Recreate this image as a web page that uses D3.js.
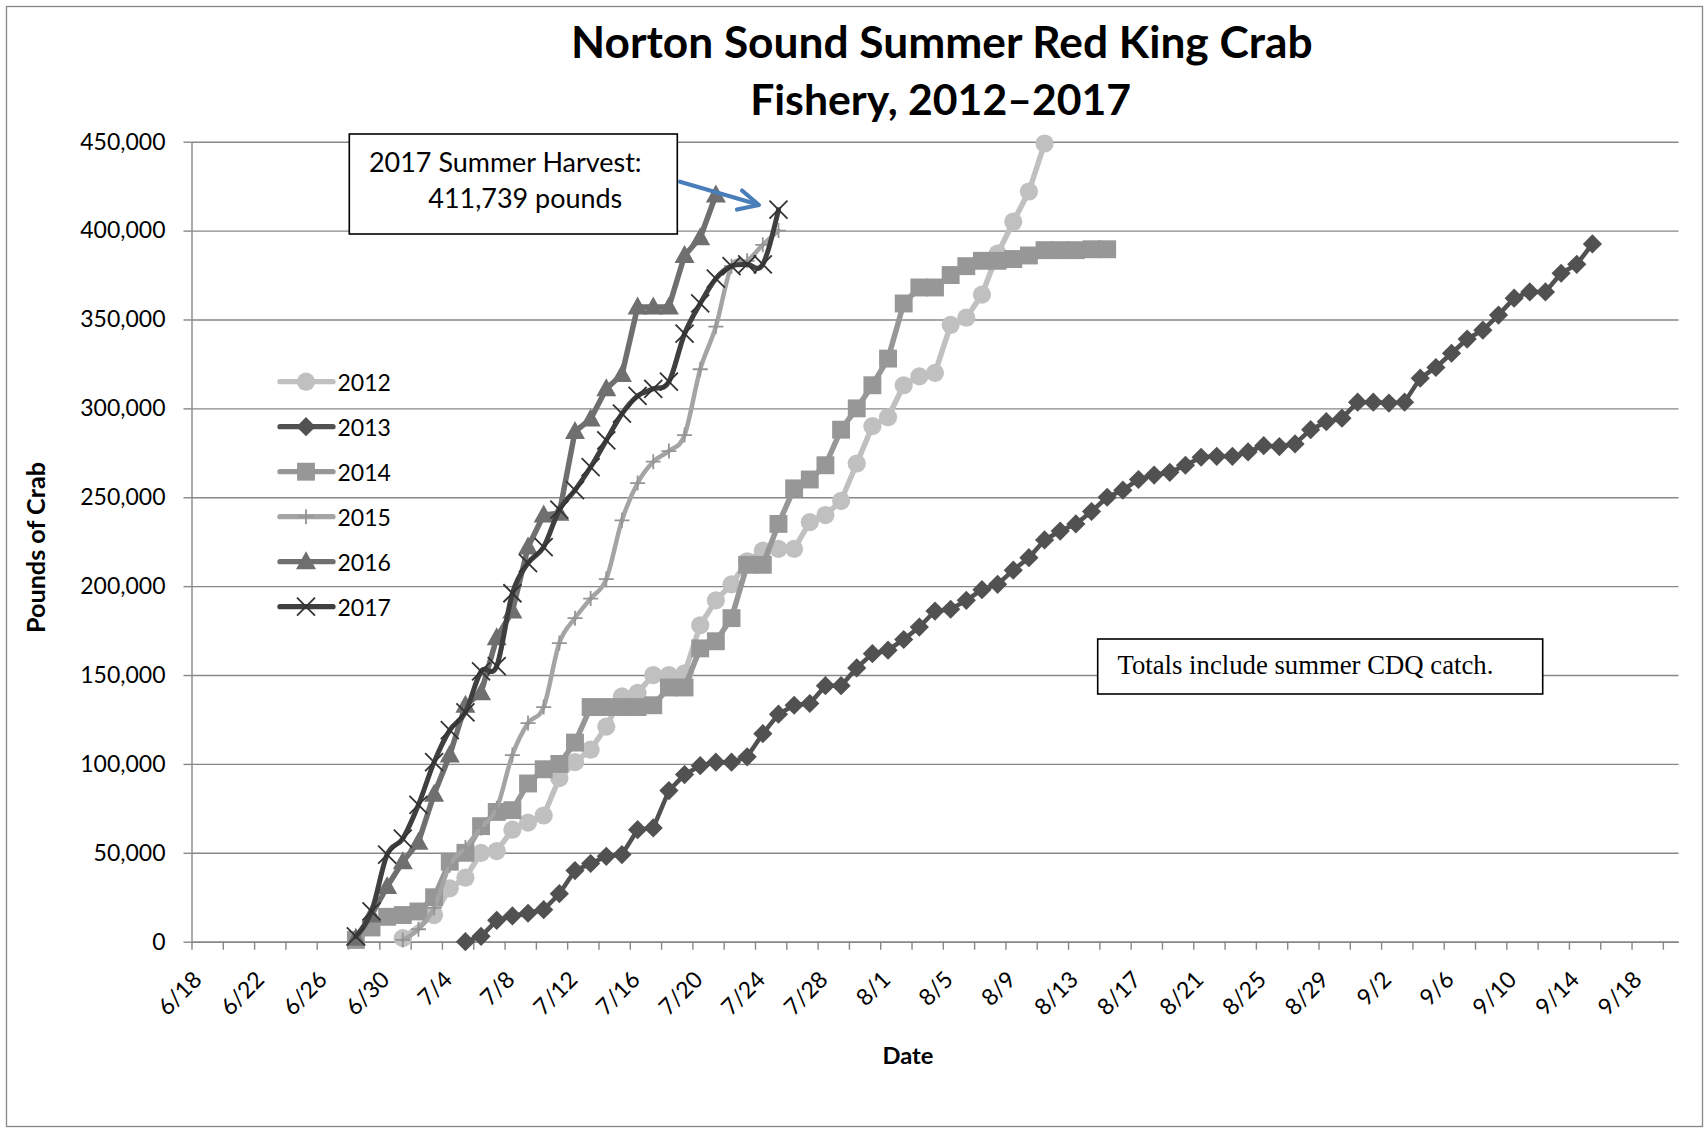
<!DOCTYPE html>
<html><head><meta charset="utf-8">
<script src="https://cdn.jsdelivr.net/npm/d3@7"></script>
<style>
body{margin:0;background:#fff;}
svg{display:block;}
</style></head><body>
<svg id="chart" width="1705" height="1128"></svg>
<script>
// ---------------- DATA ----------------
const seriesNames = ["2012", "2013", "2014", "2015", "2016", "2017"];
// first date of each series (daily values follow, one per day)
const seriesStart = ["7/1", "7/5", "6/28", "7/1", "6/28", "6/28"];

const values2012 = [2000, null, 15000, 30000, 36000, 50000, 51000, 63000, 67000, 71000, 92000, 101000, 108000, 121000, 138000, 140000, 150000, 150000, 151000, 178000, 192000, 201000, 214000, 220000, 221000, 221000, 236000, 240000, 248000, 269000, 290000, 295000, 313000, 318000, 320000, 347000, 351000, 364000, 387000, 405000, 422000, 449000];
const values2013 = [0, 3000, 12000, 14500, 16000, 18000, 27000, 40000, 44000, 48000, 49000, 63000, 64000, 85000, 94000, 99000, 101000, 101000, 104000, 117000, 128000, 133000, 134000, 144000, 144000, 154000, 162000, 164000, 170000, 177000, 186000, 187000, 192000, 198000, 201000, 209000, 216000, 226000, 231000, 235000, 242000, 250000, 254000, 260000, 262500, 264000, 268000, 272500, 273000, 273000, 275500, 279000, 278500, 280000, 288000, 292500, 294500, 303500, 303500, 303000, 303500, 317000, 323000, 331000, 339000, 344000, 352500, 362000, 365500, 365500, 376000, 381000, 392500];
const values2014 = [1000, 8000, 14000, 15000, 17000, 25000, 45000, 50000, 65000, 73000, 74000, 89000, 97000, 100000, 112000, 132000, 132000, 132000, 132000, 133000, 143000, 143000, 165000, 169000, 182000, 212000, 212000, 235000, 255000, 260000, 268000, 288000, 300000, 313000, 328000, 359000, 368000, 368000, 375000, 380000, 383000, 383000, 384000, 386000, 389000, 389000, 389000, 389500, 389500];
const values2015 = [1000, 7000, 19000, 43000, 53000, 64000, 75000, 105000, 123000, 132000, 168000, 182000, 193000, 204000, 237000, 258000, 270000, 276000, 285000, 322000, 346000, 380000, 383000, 392000, 400000];
const values2016 = [2000, 15000, 31000, 45000, 56000, 83000, 105000, 133000, 140000, 171000, 186000, 222000, 240000, 241000, 287000, 294000, 311000, 319000, 357000, 357000, 357000, 386000, 396000, 420000];
const values2017 = [3000, 17000, 49000, 58000, 77000, 101000, 119000, 129000, 152000, 155000, 196000, 213000, 222000, 243000, 254000, 267000, 282000, 297000, 307000, 311000, 315000, 342000, 359000, 373000, 380000, 381000, 381000, 411739];

const yTickValues = [0, 50000, 100000, 150000, 200000, 250000, 300000, 350000, 400000, 450000];
const axisFirstDate = "6/18";
const axisLastDate = "9/20";
const titleLines = ["Norton Sound Summer Red King Crab", "Fishery, 2012\u20132017"];
const harvestNote = ["2017 Summer Harvest:", "411,739 pounds"];
const totalsNote = "Totals include summer CDQ catch.";

// ---------------- STYLE ----------------
const styles = {
  "2012": {color: "#c0c0c0", marker: "circle", width: 5.5, curve: false},
  "2013": {color: "#515151", marker: "diamond", width: 4.5, curve: false},
  "2014": {color: "#979797", marker: "square", width: 5.5, curve: false},
  "2015": {color: "#a4a4a4", marker: "plus", width: 4.5, curve: true},
  "2016": {color: "#6f6f6f", marker: "triangle", width: 5.5, curve: false},
  "2017": {color: "#3f3f3f", marker: "x", width: 5, curve: true}
};
const seriesValues = [values2012, values2013, values2014, values2015, values2016, values2017];

// ---------------- HELPERS ----------------
function dayIndex(md) {
  const [m, d] = md.split("/").map(Number);
  const [m0, d0] = axisFirstDate.split("/").map(Number);
  return Math.round((new Date(2017, m - 1, d) - new Date(2017, m0 - 1, d0)) / 86400000);
}
function dayLabel(i) {
  const [m0, d0] = axisFirstDate.split("/").map(Number);
  const dt = new Date(2017, m0 - 1, d0 + i);
  return (dt.getMonth() + 1) + "/" + dt.getDate();
}
function fitWidth(sel, target) {
  const w = sel.node().getComputedTextLength();
  const fs = parseFloat(sel.attr("font-size"));
  sel.attr("font-size", fs * target / w);
  return fs * target / w;
}

const svg = d3.select("#chart");
const sans = "Lato, 'Open Sans', sans-serif";
const gridColor = "#878787";

// chart border
svg.append("rect").attr("x", 6.5).attr("y", 6.5).attr("width", 1696).attr("height", 1120)
  .attr("fill", "#fff").attr("stroke", "#868686").attr("stroke-width", 1.3);

const nDays = dayIndex(axisLastDate) + 1;
const plotLeft = 191.5, plotRight = 1678.5, plotTop = 141.7, plotBottom = 941.7;
const x = d3.scaleLinear().domain([-0.5, nDays - 0.5]).range([plotLeft, plotRight]);
const y = d3.scaleLinear().domain([0, 450000]).range([plotBottom, plotTop]);

// gridlines
const grid = svg.append("g").attr("transform", `translate(${plotLeft},0)`)
  .call(d3.axisLeft(y).tickValues(yTickValues).tickSize(-(plotRight - plotLeft)).tickFormat(""));
grid.select(".domain").remove();
grid.selectAll("line").attr("stroke", gridColor).attr("stroke-width", 1.4);

// y axis
const yAxis = svg.append("g").attr("transform", `translate(${plotLeft},0)`)
  .call(d3.axisLeft(y).tickValues(yTickValues).tickFormat(d3.format(",")).tickSizeInner(8).tickSizeOuter(0).tickPadding(18));
yAxis.select(".domain").attr("stroke", gridColor).attr("stroke-width", 1.4);
yAxis.selectAll("line").attr("stroke", gridColor).attr("stroke-width", 1.4);
yAxis.selectAll("text").attr("font-family", sans).attr("font-size", 23).attr("fill", "#000");

// x axis ticks (every 2 days at category boundaries)
const boundaries = d3.range(-0.5, nDays, 2);
const xAxis = svg.append("g").attr("transform", `translate(0,${plotBottom})`)
  .call(d3.axisBottom(x).tickValues(boundaries).tickFormat("").tickSizeInner(8).tickSizeOuter(0));
xAxis.select(".domain").attr("stroke", gridColor).attr("stroke-width", 1.4);
xAxis.selectAll("line").attr("stroke", gridColor).attr("stroke-width", 1.4);

// x labels every 4 days
const labelDays = d3.range(0, nDays, 4);
const xLab = svg.append("g").attr("transform", `translate(0,${plotBottom})`)
  .call(d3.axisBottom(x).tickValues(labelDays).tickFormat(dayLabel).tickSize(0));
xLab.select(".domain").remove();
xLab.selectAll("text")
  .attr("font-family", sans).attr("font-size", 23).attr("fill", "#000")
  .attr("text-anchor", "end").attr("dominant-baseline", "central")
  .attr("dy", null).attr("y", null)
  .attr("transform", "translate(-3,33) rotate(-45)");

// ---------------- SERIES ----------------
function markerPath(type) {
  switch (type) {
    case "circle": return d3.symbol(d3.symbolCircle, 260)();
    case "square": return d3.symbol(d3.symbolSquare, 320)();
    case "diamond": return "M0,-9.6L9.6,0L0,9.6L-9.6,0Z";
    case "triangle": return "M0,-10.5L10,7.5L-10,7.5Z";
    case "x": return "M-9,-9L9,9M-9,9L9,-9";
    case "plus": return "M-7.5,0L7.5,0M0,-7.5L0,7.5";
  }
}

seriesNames.forEach((name, si) => {
  const st = styles[name];
  const s0 = dayIndex(seriesStart[si]);
  const pts = seriesValues[si].map((v, i) => ({d: s0 + i, v})).filter(p => p.v !== null);
  const g = svg.append("g");
  const line = d3.line().x(p => x(p.d)).y(p => y(p.v));
  if (st.curve) line.curve(d3.curveCardinal.tension(0));
  g.append("path").attr("d", line(pts)).attr("fill", "none")
    .attr("stroke", st.color).attr("stroke-width", st.width)
    .attr("stroke-linejoin", "round").attr("stroke-linecap", "round");
  const stroked = st.marker === "x" || st.marker === "plus";
  g.selectAll("path.m").data(pts).join("path").attr("class", "m")
    .attr("d", markerPath(st.marker))
    .attr("transform", p => `translate(${x(p.d)},${y(p.v)})`)
    .attr("fill", stroked ? "none" : st.color)
    .attr("stroke", stroked ? (st.marker === "x" ? "#333" : "#959595") : "none")
    .attr("stroke-width", stroked ? 1.8 : 0);
});

// ---------------- LEGEND ----------------
const legend = svg.append("g");
seriesNames.forEach((name, i) => {
  const st = styles[name];
  const ly = 381.7 + 45 * i;
  legend.append("line").attr("x1", 280).attr("x2", 333).attr("y1", ly).attr("y2", ly)
    .attr("stroke", st.color).attr("stroke-width", 5.3).attr("stroke-linecap", "round");
  const stroked = st.marker === "x" || st.marker === "plus";
  legend.append("path").attr("d", markerPath(st.marker))
    .attr("transform", `translate(306,${ly})`)
    .attr("fill", stroked ? "none" : st.color)
    .attr("stroke", stroked ? (st.marker === "x" ? "#333" : "#959595") : "none")
    .attr("stroke-width", stroked ? 1.8 : 0);
  legend.append("text").attr("x", 337.5).attr("y", ly).attr("dominant-baseline", "central")
    .attr("font-family", sans).attr("font-size", 23).attr("fill", "#000").text(name);
});

// ---------------- TITLES ----------------
const t1 = svg.append("text").attr("x", 941.8).attr("y", 57.6).attr("text-anchor", "middle")
  .attr("font-family", sans).attr("font-weight", 700).attr("font-size", 44).attr("fill", "#000").text(titleLines[0]);
fitWidth(t1, 741.6);
const t2 = svg.append("text").attr("x", 940.6).attr("y", 114.5).attr("text-anchor", "middle")
  .attr("font-family", sans).attr("font-weight", 700).attr("font-size", 44).attr("fill", "#000").text(titleLines[1]);
fitWidth(t2, 381);

const yt = svg.append("text").attr("transform", "translate(35,547.5) rotate(-90)")
  .attr("text-anchor", "middle").attr("dominant-baseline", "central")
  .attr("font-family", sans).attr("font-weight", 700).attr("font-size", 20).attr("fill", "#000").text("Pounds of Crab");
fitWidth(yt, 171);
const xt = svg.append("text").attr("x", 908).attr("y", 1064).attr("text-anchor", "middle")
  .attr("font-family", sans).attr("font-weight", 700).attr("font-size", 20).attr("fill", "#000").text("Date");
fitWidth(xt, 51);

// ---------------- ANNOTATIONS ----------------
svg.append("rect").attr("x", 349.3).attr("y", 134).attr("width", 328).attr("height", 100)
  .attr("fill", "#fff").attr("stroke", "#000").attr("stroke-width", 1.6);
const h1 = svg.append("text").attr("x", 369).attr("y", 171.7)
  .attr("font-family", sans).attr("font-size", 26).attr("fill", "#000").text(harvestNote[0]);
const hfs = fitWidth(h1, 272.7);
svg.append("text").attr("x", 428.3).attr("y", 207.8)
  .attr("font-family", sans).attr("font-size", hfs).attr("fill", "#000").text(harvestNote[1]);

// arrow
const arrowColor = "#4a7ebb";
svg.append("line").attr("x1", 680).attr("y1", 181.7).attr("x2", 758).attr("y2", 204.5)
  .attr("stroke", arrowColor).attr("stroke-width", 4.2).attr("stroke-linecap", "round");
svg.append("polyline").attr("points", "742,190.5 759,205 737,209.5")
  .attr("fill", "none").attr("stroke", arrowColor).attr("stroke-width", 4.2)
  .attr("stroke-linecap", "round").attr("stroke-linejoin", "round");

svg.append("rect").attr("x", 1097.7).attr("y", 639).attr("width", 445).attr("height", 55)
  .attr("fill", "#fff").attr("stroke", "#000").attr("stroke-width", 1.6);
const tn = svg.append("text").attr("x", 1117.5).attr("y", 674)
  .attr("font-family", "'Liberation Serif', 'Times New Roman', serif").attr("font-size", 25).attr("fill", "#000").text(totalsNote);
fitWidth(tn, 376);
</script>
</body></html>
